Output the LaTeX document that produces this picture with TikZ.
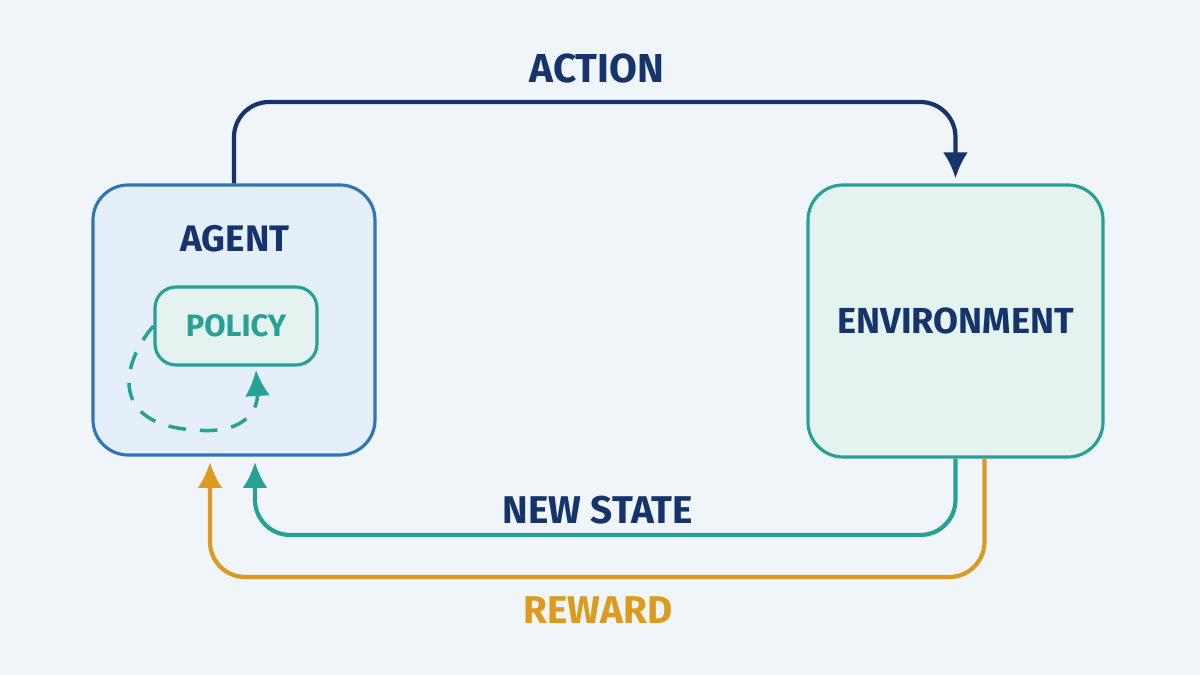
\documentclass[tikz,border=0pt]{standalone}
\usepackage{fontspec}
\setmainfont{Fira Sans}
\usetikzlibrary{arrows.meta}
\definecolor{bgc}{HTML}{F0F5FA}
\definecolor{navy}{HTML}{16346C}
\definecolor{agentb}{HTML}{2F75B8}
\definecolor{agentf}{HTML}{E4EFFA}
\definecolor{teal}{HTML}{27A096}
\definecolor{envf}{HTML}{E5F3F0}
\definecolor{orng}{HTML}{DC9A1F}
\begin{document}
\begin{tikzpicture}[>={Latex[length=2.6mm,width=2.5mm]},
	box/.style={rounded corners=10pt,line width=0.9pt},
	flow/.style={->,line width=1.2pt,rounded corners=10pt},
	lbl/.style={font=\bfseries}]
\fill[bgc] (0,0) rectangle (12,6.75);
\node[box,draw=agentb,fill=agentf,minimum width=2.82cm,minimum height=2.7cm] (agent) at (2.34,3.55) {};
\node[box,draw=teal,fill=envf,minimum width=2.95cm,minimum height=2.72cm] (env) at (9.555,3.54) {};
\node[box,rounded corners=6pt,draw=teal,fill=envf,minimum width=1.62cm,minimum height=0.78cm] (policy) at (2.36,3.49) {};
\node[lbl,navy,font=\bfseries\fontsize{10.5}{12}\selectfont] (agentlbl) at (2.35,4.36) {AGENT};
\node[lbl,teal,font=\bfseries\fontsize{8.8}{10}\selectfont] (policylbl) at (policy) {POLICY};
\node[lbl,navy,font=\bfseries\fontsize{10.3}{12}\selectfont] (envlbl) at (env) {ENVIRONMENT};
\node[lbl,navy,font=\bfseries\fontsize{11.5}{13}\selectfont] (action) at (5.97,6.06) {ACTION};
\node[lbl,navy,font=\bfseries\fontsize{11}{13}\selectfont] (newstate) at (5.98,1.65) {NEW STATE};
\node[lbl,orng,font=\bfseries\fontsize{11}{13}\selectfont] (reward) at (5.98,0.65) {REWARD};
% loop arrows
\draw[flow,navy] (agent.north) -- (agent.north |- 0,5.73) -- (env.north |- 0,5.73) -- ([yshift=0.05cm]env.north);
\draw[flow,teal] (env.south) -- (env.south |- 0,1.4) -- (2.55,1.4) -- (2.55,2.13);
\draw[flow,orng] ([xshift=0.29cm]env.south) -- ([xshift=0.29cm]env.south |- 0,0.98) -- (2.1,0.98) -- (2.1,2.13);
% policy self loop
\draw[->,teal,line width=1pt,dash pattern=on 5pt off 4pt] (policy.west) .. controls (1.2,3.1) and (1.1,2.5) .. (1.95,2.45) .. controls (2.5,2.4) and (2.58,2.7) .. (2.56,3.05);
\end{tikzpicture}
\end{document}
